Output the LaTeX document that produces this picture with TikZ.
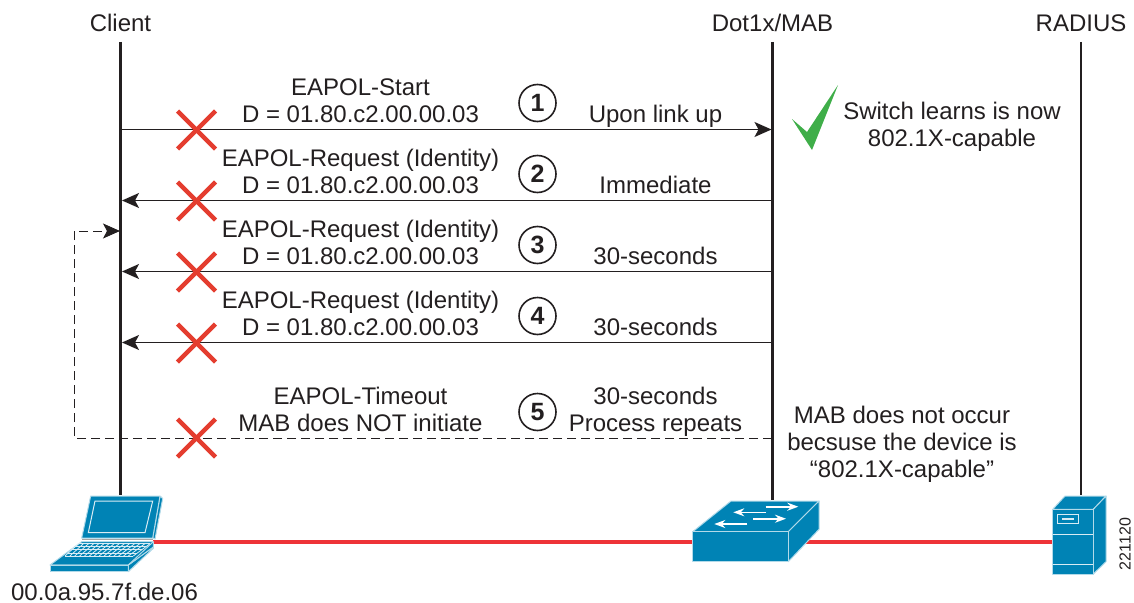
\documentclass[tikz,border=0pt]{standalone}
\usepackage{fontspec}
\setmainfont{Liberation Sans}
\usetikzlibrary{arrows.meta}
\definecolor{inktext}{HTML}{231F20}
\definecolor{iconblue}{HTML}{0083B5}
\definecolor{linkred}{HTML}{EE3338}
\definecolor{crossred}{HTML}{E43D2F}
\definecolor{tickgreen}{HTML}{3FAE49}
\tikzset{
    label/.style={font=\fontsize{24}{27}\selectfont, text=inktext, align=center, inner sep=0pt},
    lifeline/.style={draw=inktext, line width=2.6pt},
    msg/.style={draw=inktext, line width=1.2pt, -{Stealth[length=17pt,width=15pt,inset=4pt]}},
    stepnum/.style={circle, draw=inktext, line width=1.6pt, minimum size=37pt, inner sep=0pt, fill=white,
        font=\fontsize{25}{25}\selectfont\bfseries, text=inktext},
    cross/.style={draw=crossred, line width=4.4pt},
    link/.style={draw=linkred, line width=4pt},
    icon/.style={fill=iconblue, draw=white!70!iconblue, line width=1pt, line join=round},
    iconline/.style={draw=white!85!iconblue, line width=1pt},
}
\begin{document}
\begin{tikzpicture}[x=1pt, y=-1pt]
\useasboundingbox (0,0) rectangle (1134,602);

% links behind the icons
\coordinate (laptopport) at (153,541.5);
\coordinate (switchleft) at (693,541.5);
\coordinate (switchright) at (806,541.5);
\coordinate (serverport) at (1053,541.5);
\draw[link] (laptopport)--(switchleft);
\draw[link] (switchright)--(serverport);

% lifelines
\node[label] (client) at (120.5,22.5) {Client};
\node[label] (dot1x) at (772.5,23) {Dot1x/MAB};
\node[label] (radius) at (1081,23) {RADIUS};
\coordinate (laptoptop) at (120.5,495);
\coordinate (switchtop) at (772.5,500);
\coordinate (servertop) at (1081,495);
\draw[lifeline] (client.south |- 0,42)--(laptoptop);
\draw[lifeline] (dot1x.south |- 0,42)--(switchtop);
\draw[lifeline] (radius.south |- 0,42)--(servertop);

% messages
\coordinate (c1) at (121,129.5);
\coordinate (s1) at (771.5,129.5);
\draw[msg] (c1)--(s1);
\foreach \n/\y in {2/200.5,3/271.5,4/342.5}
{
    \coordinate (s\n) at (772,\y);
    \coordinate (c\n) at (122,\y);
    \draw[msg] (s\n)--(c\n);
}
\coordinate (s5) at (772,438);
\coordinate (bend1) at (74,438);
\coordinate (bend2) at (74,231);
\coordinate (c5) at (120,231);
\draw[msg, line width=.9pt, dash pattern=on 9pt off 5pt] (s5)--(bend1)--(bend2)--(c5);

% crosses and step numbers
\foreach \n/\y/\cy in {1/130/103,2/201/174,3/272/245,4/343/316,5/438/412}
{
    \draw[cross] (177.5,\y-19)--(215.5,\y+19);
    \draw[cross] (215.5,\y-19)--(177.5,\y+19);
    \node[stepnum] (step\n) at (537.5,\cy) {\n};
}

% texts of the messages
\node[label] (start) at (360.5,100.5) {EAPOL-Start\\D = 01.80.c2.00.00.03};
\node[label] (req2) at (360.5,171.5) {EAPOL-Request (Identity)\\D = 01.80.c2.00.00.03};
\node[label] (req3) at (360.5,242.5) {EAPOL-Request (Identity)\\D = 01.80.c2.00.00.03};
\node[label] (req4) at (360.5,313.5) {EAPOL-Request (Identity)\\D = 01.80.c2.00.00.03};
\node[label] (timeout) at (360.5,409.5) {EAPOL-Timeout\\MAB does NOT initiate};
\node[label] (when1) at (655.5,116) {Upon link up};
\node[label] (when2) at (655.5,185) {Immediate};
\node[label] (when3) at (655.5,256) {30-seconds};
\node[label] (when4) at (655.5,327) {30-seconds};
\node[label] (when5) at (655.5,411.5) {30-seconds\\Process repeats};
\node[label] (learns) at (952,126.5) {Switch learns is now\\802.1X-capable};
\node[label] (nomab) at (902,444) {MAB does not occur\\becsuse the device is\\``802.1X-capable''};
\node[label, align=none] (mac) at (104.5,591.5) {00.0a.95.7f.de.06};
\node[label, font=\fontsize{16}{16}\selectfont, rotate=90] (imgid) at (1125,544) {221120};

% tick
\fill[tickgreen] (792,119)--(807,132)--(838,85)--(812,150)--cycle;

% laptop
\fill[icon] (160,496)--(162.7,498.5)--(155,539)--(152.7,538)--cycle;
\fill[icon] (90.7,496)--(160,496)--(152.7,538)--(81.7,538)--cycle;
\draw[iconline] (95,501)--(152.7,501)--(145,532.7)--(88.3,532.7)--cycle;
\draw[gray!70, line width=1.6pt] (82,539.5)--(153,539.5);
\fill[icon] (50,565)--(128.3,565)--(128.3,571.7)--(50,571.7)--cycle;
\fill[icon] (128.3,565)--(153.3,547)--(153.3,548.3)--(128.3,571.7)--cycle;
\fill[icon] (81.7,541.7)--(153.3,541.7)--(153.3,547)--(128.3,565)--(50,565)--cycle;
\draw[icon, fill=none] (50,565)--(128.3,565)--(153.3,541.7);
\foreach \t in {0,.25,.5,.75,1}
{
    \draw[iconline, line width=.8pt] (78.3-13.3*\t,543.7+12.3*\t)--(150-16.7*\t,543.7+12.3*\t);
}
\foreach \t in {0,.0714,...,1.01}
{
    \draw[iconline, line width=.8pt] (78.3+71.7*\t,543.7)--(65+68.3*\t,556);
}

% switch
\fill[icon] (692.7,531.7)--(731,501)--(819,501)--(788.3,531.7)--cycle;
\fill[icon] (788.3,531.7)--(819,501)--(819,529.3)--(788.3,561.7)--cycle;
\fill[icon] (692.7,531.7) rectangle (788.3,561.7);
\foreach \xa/\xb/\y in {765.7/798.3/506.7,766/733.3/512.3,753.3/786/518.7,747.3/714.3/524}
{
    \draw[white, line width=1.6pt, -{Stealth[length=11pt,width=8pt]}] (\xa,\y)--(\xb,\y);
}

% server
\fill[icon] (1052.7,509.3)--(1065,496)--(1106,496)--(1093.3,509.3)--cycle;
\fill[icon] (1093.3,509.3)--(1106,496)--(1106,561.7)--(1093.3,574)--cycle;
\fill[icon] (1052.7,509.3) rectangle (1093.3,574);
\draw[iconline] (1052.7,534.3)--(1093.3,534.3);
\draw[iconline] (1052.7,564.7)--(1093.3,564.7);
\draw[iconline] (1057.7,514.3) rectangle (1078.7,523.3);
\draw[iconline, line width=1.4pt] (1062.3,519)--(1074,519);
\end{tikzpicture}
\end{document}
